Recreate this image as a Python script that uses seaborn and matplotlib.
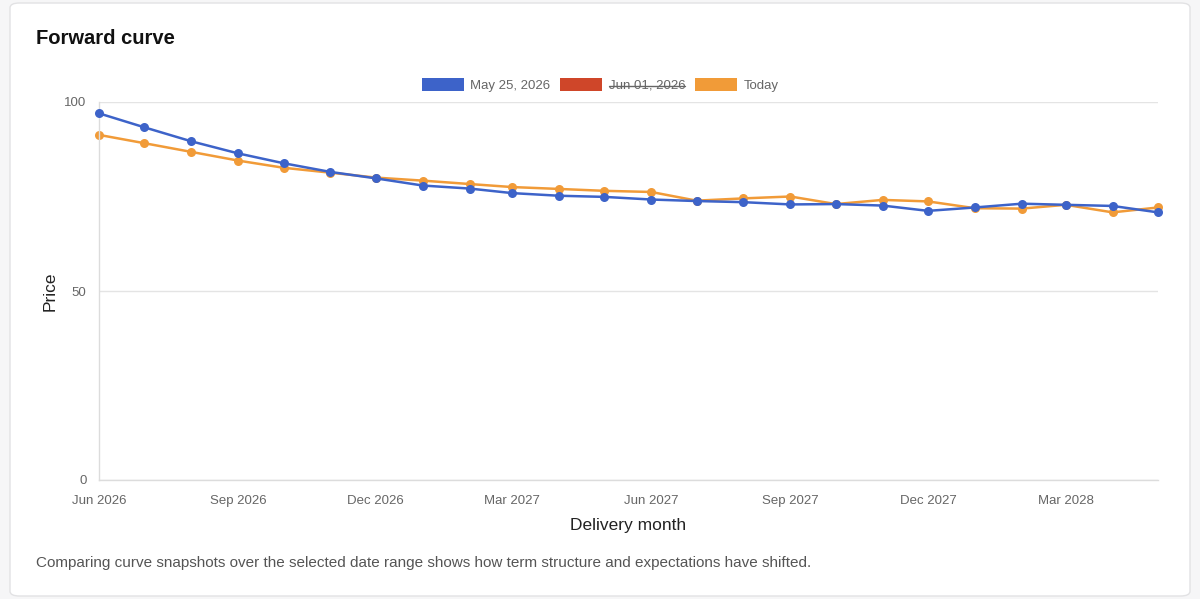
import numpy as np
import pandas as pd
import seaborn as sns
import matplotlib.pyplot as plt
import matplotlib.dates as mdates
from matplotlib.patches import Patch, FancyBboxPatch
from matplotlib.lines import Line2D

# Monthly delivery points
months = pd.date_range("2026-06-01", "2028-05-01", freq="MS")
may25_prices = [97.0, 93.3, 89.6, 86.4, 83.8, 81.5, 79.8, 77.9, 77.1, 75.9, 75.2, 74.9,
                74.2, 73.8, 73.5, 72.9, 73.0, 72.6, 71.2, 72.1, 73.1, 72.8, 72.5, 70.8]
today_prices = [91.3, 89.1, 86.8, 84.5, 82.6, 81.3, 80.0, 79.2, 78.3, 77.5, 77.0, 76.5,
                76.2, 73.9, 74.5, 75.0, 73.0, 74.1, 73.7, 71.9, 71.8, 72.8, 70.8, 72.1]
series_names = ["May 25, 2026", "Jun 01, 2026", "Today"]
series_colors = ["#3d63c9", "#cf4629", "#f19b38"]
hidden_series = ["Jun 01, 2026"]
y_ticks = [0, 50, 100]

df = pd.DataFrame({"month": months, "May 25, 2026": may25_prices, "Today": today_prices})

sns.set_style("white")
plt.rcParams["font.family"] = ["Liberation Sans", "DejaVu Sans"]

fig = plt.figure(figsize=(12, 5.99), dpi=100, facecolor="#f6f6f7")
card = FancyBboxPatch((10 / 1200, 3 / 599), 1180 / 1200, 593 / 599,
                      boxstyle="round,pad=0,rounding_size=0.008",
                      transform=fig.transFigure, facecolor="white",
                      edgecolor="#e2e2e4", linewidth=1.0, zorder=-5)
fig.patches.append(card)

ax = fig.add_axes([99 / 1200, 1 - 480 / 599, (1158 - 99) / 1200, (480 - 102) / 599])
ax.set_facecolor("none")
ax.set_zorder(2)

color_map = dict(zip(series_names, series_colors))
# Chart.js draws the first dataset on top, so the orange goes down first
for name in ["Today", "May 25, 2026"]:
    sns.lineplot(data=df, x="month", y=name, ax=ax, color=color_map[name],
                 linewidth=1.8, marker="o", markersize=6.5, markeredgewidth=0,
                 zorder=3 if name == "May 25, 2026" else 2, clip_on=False)

ax.set_ylim(0, 100)
ax.set_yticks(y_ticks)
ax.set_xlim(months[0], months[-1])
ax.xaxis.set_major_locator(mdates.MonthLocator(bymonth=[3, 6, 9, 12]))
ax.xaxis.set_major_formatter(mdates.DateFormatter("%b %Y"))

ax.grid(axis="y", color="#e4e4e4", linewidth=1)
ax.grid(axis="x", visible=False)
for side in ["top", "right"]:
    ax.spines[side].set_visible(False)
for side in ["left", "bottom"]:
    ax.spines[side].set_color("#dcdcdc")
    ax.spines[side].set_linewidth(1)
ax.tick_params(axis="both", colors="#dcdcdc", labelcolor="#666666", labelsize=9.5,
               length=6, width=1)
ax.tick_params(axis="x", pad=4.5)
ax.tick_params(axis="y", pad=3)

ax.set_xlabel("Delivery month", fontsize=12.5, color="#222222", labelpad=8)
ax.set_ylabel("Price", fontsize=12.5, color="#222222", labelpad=5)

fig.text(36 / 1200, 1 - 38 / 599, "Forward curve", fontsize=14.5, fontweight="bold",
         color="#111111", va="center", ha="left")
fig.text(36 / 1200, 1 - 563 / 599,
         "Comparing curve snapshots over the selected date range shows how term structure "
         "and expectations have shifted.",
         fontsize=11.0, color="#555555", va="center", ha="left")

handles = [Patch(facecolor=c, edgecolor="none") for c in series_colors]
leg = fig.legend(handles, series_names, loc="center", bbox_to_anchor=(0.5, 1 - 85 / 599),
                 ncol=3, frameon=False, fontsize=9.5, handlelength=3.2, handleheight=1.1,
                 handletextpad=0.5, columnspacing=0.7, labelcolor="#666666")

# strike through hidden datasets, like Chart.js does
fig.canvas.draw()
renderer = fig.canvas.get_renderer()
for txt in leg.get_texts():
    if txt.get_text() in hidden_series:
        bb = txt.get_window_extent(renderer).transformed(fig.transFigure.inverted())
        ymid = (bb.y0 + bb.y1) / 2
        fig.add_artist(Line2D([bb.x0, bb.x1], [ymid, ymid], transform=fig.transFigure,
                              color="#666666", linewidth=1))

fig.savefig("out.png", dpi=100, facecolor=fig.get_facecolor())
